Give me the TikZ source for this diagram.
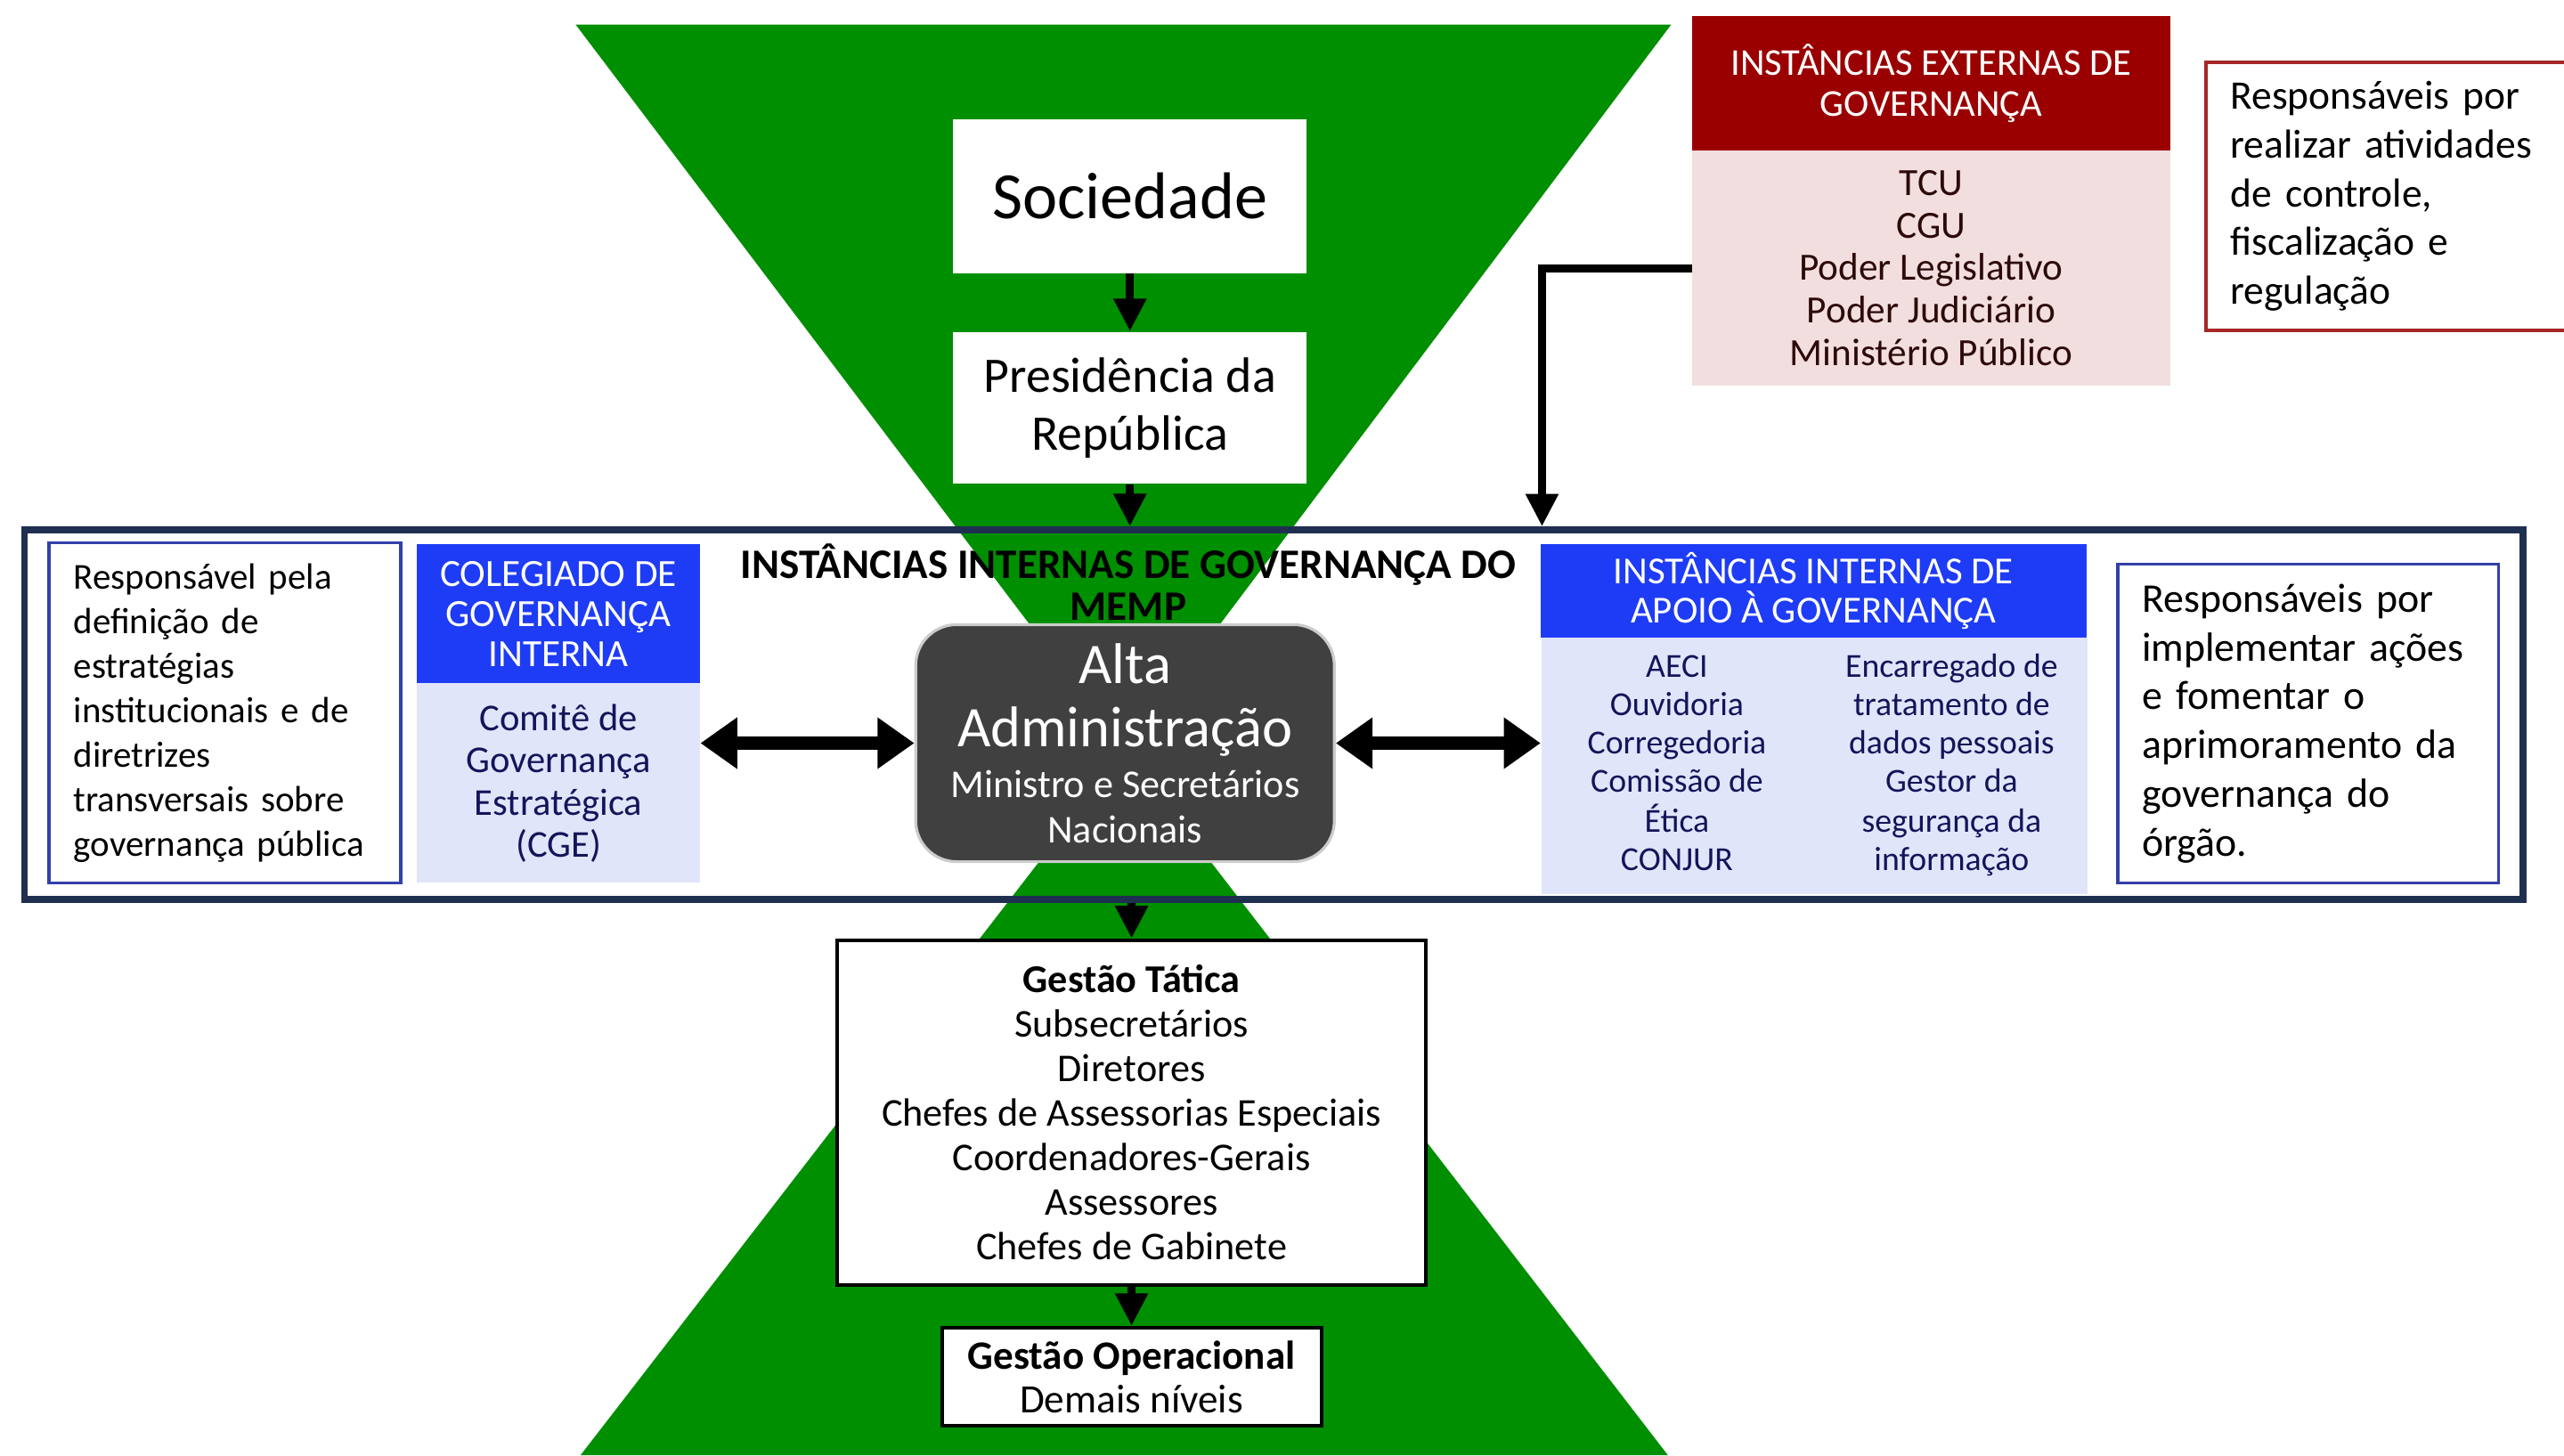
\documentclass[tikz,border=0pt]{standalone}
\usepackage{fontspec}
\usepackage{array}
\setmainfont{Carlito}
\usetikzlibrary{arrows.meta}

\definecolor{govgreen}{RGB}{0,143,0}
\definecolor{extred}{RGB}{155,0,0}
\definecolor{extpink}{RGB}{242,222,222}
\definecolor{intblue}{RGB}{30,60,245}
\definecolor{intlav}{RGB}{225,229,250}
\definecolor{framenavy}{RGB}{31,47,80}
\definecolor{altagray}{RGB}{64,64,64}
\definecolor{noteblue}{RGB}{50,64,170}
\definecolor{notered}{RGB}{165,40,40}
\definecolor{textnavy}{RGB}{20,20,90}
\definecolor{textmaroon}{RGB}{45,10,10}

\newcommand{\setfs}[2]{\fontsize{#1}{#2}\selectfont}

\tikzset{
    plainbox/.style={fill=white, align=center, inner sep=0pt},
    redhead/.style={fill=extred, text=white, align=center, inner sep=0pt, minimum width=5.84cm},
    pinkbody/.style={fill=extpink, text=textmaroon, align=center, inner sep=0pt, minimum width=5.84cm},
    bluehead/.style={fill=intblue, text=white, align=center, inner sep=0pt},
    lavbody/.style={fill=intlav, text=textnavy, align=center, inner sep=0pt},
    notebox/.style={draw, line width=1.1pt, fill=white, align=left, inner xsep=0.3cm, inner ysep=0pt},
    gestbox/.style={draw=black, line width=1.2pt, fill=white, align=center, inner sep=0pt},
    flow/.style={line width=2.8pt, -{Triangle[length=4mm,width=3.8mm]}},
    both/.style={line width=4.5pt, {Triangle[length=4.5mm,width=6mm]}-{Triangle[length=4.5mm,width=6mm]}},
}

\begin{document}
\begin{tikzpicture}
    \useasboundingbox (0,0) rectangle (31.36,17.8);
    % hourglass
    \fill [govgreen] (7.04,17.5) -- (20.44,17.5) -- (13.76,8.62) -- cycle;
    \fill [govgreen] (7.10,0) -- (20.40,0) -- (13.76,8.62) -- cycle;

    % frame of the internal instances
    \node (frame) at (15.58,9.06) [draw=framenavy, line width=2.3pt, minimum width=30.56cm, minimum height=4.52cm] {};
    \node (title) at (13.8,10.68) [align=center, font=\bfseries\setfs{14.6}{14.8}] {INSTÂNCIAS INTERNAS DE GOVERNANÇA DO\\MEMP};

    % top
    \node (soc) at (13.82,15.4) [plainbox, minimum width=4.32cm, minimum height=1.88cm, font=\setfs{23}{28}] {Sociedade};
    \node (pres) at (13.82,12.81) [plainbox, minimum width=4.32cm, minimum height=1.86cm, font=\setfs{17.3}{19.9}] {Presidência da\\República};
    \node (exthead) at (23.62,16.78) [redhead, minimum height=1.64cm, font=\setfs{13.2}{14.2}] {INSTÂNCIAS EXTERNAS DE\\GOVERNANÇA};
    \node (extbody) at (23.62,14.52) [pinkbody, minimum height=2.88cm, font=\setfs{13.4}{14.8}] {TCU\\CGU\\Poder Legislativo\\Poder Judiciário\\Ministério Público};
    \node (extnote) at (29.23,15.4) [notebox, draw=notered, text width=3.9cm, minimum height=3.28cm, font=\setfs{14.1}{17}] {Responsáveis por\\realizar atividades\\de controle,\\fiscalização e\\regulação};

    % middle
    \node (leftnote) at (2.75,9.08) [notebox, draw=noteblue, text width=3.7cm, minimum height=4.16cm, font=\setfs{12.7}{15.5}] {Responsável pela\\definição de\\estratégias\\institucionais e de\\diretrizes\\transversais sobre\\governança pública};
    \node (colhead) at (6.83,10.29) [bluehead, minimum width=3.46cm, minimum height=1.7cm, font=\setfs{13.4}{13.9}] {COLEGIADO DE\\GOVERNANÇA\\INTERNA};
    \node (colbody) at (6.83,8.22) [lavbody, minimum width=3.46cm, minimum height=2.44cm, font=\setfs{13.2}{14.7}] {Comitê de\\Governança\\Estratégica\\(CGE)};
    \node (alta) at (13.76,8.71) [fill=altagray, draw=gray!40, line width=1pt, rounded corners=0.5cm, minimum width=5.12cm, minimum height=2.9cm, text=white, align=center, inner sep=0pt, font=\setfs{20}{22.2}] {Alta\\Administração\\[-4.5pt]\setfs{13.7}{15}Ministro e Secretários\\[-6.6pt]\setfs{13.7}{15}Nacionais};
    \node (apoiohead) at (22.18,10.57) [bluehead, minimum width=6.68cm, minimum height=1.14cm, font=\setfs{13.3}{13.6}] {INSTÂNCIAS INTERNAS DE\\APOIO À GOVERNANÇA};
    \node (apoiobody) at (22.19,8.43) [lavbody, minimum width=6.68cm, minimum height=3.14cm, font=\setfs{11.7}{13.4}] {\raisebox{-0.06cm}{\begin{tabular}{@{}>{\centering}p{3.1cm}@{\hspace{0.26cm}}>{\centering\arraybackslash}p{3.1cm}@{}}
        AECI & Encarregado de\\
        Ouvidoria & tratamento de\\
        Corregedoria & dados pessoais\\
        Comissão de & Gestor da\\
        Ética & segurança da\\
        CONJUR & informação
    \end{tabular}}};
    \node (rightnote) at (28.23,8.95) [notebox, draw=noteblue, text width=4.06cm, minimum height=3.9cm, font=\setfs{14.2}{17}] {Responsáveis por\\implementar ações\\e fomentar o\\aprimoramento da\\governança do\\órgão.};

    % bottom
    \node (tatica) at (13.84,4.19) [gestbox, minimum width=7.2cm, minimum height=4.22cm, font=\setfs{13.7}{15.5}] {\textbf{Gestão Tática}\\Subsecretários\\Diretores\\Chefes de Assessorias Especiais\\Coordenadores-Gerais\\Assessores\\Chefes de Gabinete};
    \node (oper) at (13.84,0.96) [gestbox, minimum width=4.64cm, minimum height=1.2cm, font=\setfs{14}{15.3}] {\textbf{Gestão Operacional}\\Demais níveis};

    % connectors
    \coordinate (extin) at (18.86,11.36);
    \draw [flow] (soc) -- (pres);
    \draw [flow] (pres.south) -- (pres.south |- frame.north);
    \draw [flow] (extbody.west) -| (extin);
    \draw [both] (alta.west -| colbody.east) -- (alta.west);
    \draw [both] (alta.east) -- (alta.east -| apoiobody.west);
    \draw [flow] (frame.south -| tatica.north) -- (tatica.north);
    \draw [flow] (tatica) -- (oper);
\end{tikzpicture}
\end{document}
